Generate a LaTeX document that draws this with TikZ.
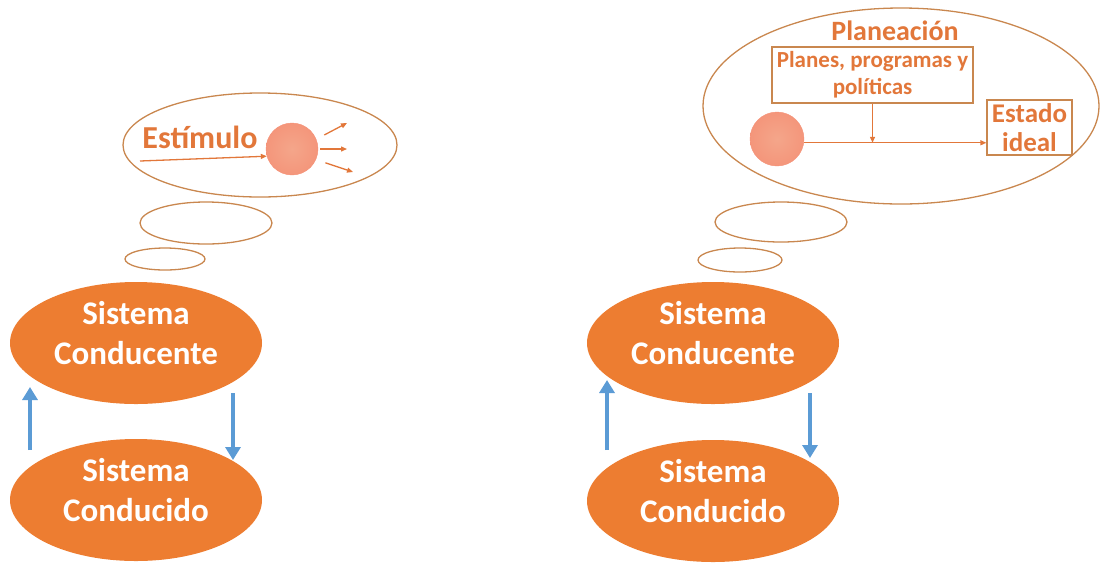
\documentclass[tikz,border=0pt]{standalone}
\usepackage{fontspec}
\setmainfont{Carlito}
\usetikzlibrary{shapes.geometric,arrows.meta}
\definecolor{naranja}{HTML}{ED7D31}
\definecolor{borde}{HTML}{C9874F}
\definecolor{letra}{HTML}{E2773A}
\definecolor{bolacol}{HTML}{F3A184}
\definecolor{azul}{HTML}{5B9BD5}

\tikzset{
 sist/.style={ellipse,fill=naranja,minimum width=252pt,minimum height=122pt,inner sep=0pt},
 sisttexto/.style={text=white,align=center,inner sep=0pt,font=\bfseries\fontsize{33}{40}\selectfont},
 nube/.style={ellipse,draw=borde,line width=1.3pt,inner sep=0pt},
 bola/.style={circle,inner color=bolacol!95!white,outer color=bolacol!93!red,draw=bolacol!90!red,inner sep=0pt},
 caja/.style={rectangle,draw=borde,line width=1.2pt,inner sep=0pt,align=center,text=letra},
 titulo/.style={anchor=base,text=letra,inner sep=0pt},
 flechaazul/.style={draw=azul,line width=3.4pt,-{Triangle[length=13pt,width=15pt]}},
 flechita/.style={draw=letra,line width=1.3pt,-{Triangle[length=6pt,width=5pt]}}
}
\newcommand{\sistema}[3]{%
 \node[sist] ({#1}) at ({#2}) {};%
 \node[sisttexto] ({#1}t) at ([yshift=10pt]{#1}.center) {#3};%
}

\begin{document}
\begin{tikzpicture}[x=1pt,y=-1pt]
 \useasboundingbox (0,0) rectangle (1102,566);
 % izquierda
 \node[nube,minimum width=274pt,minimum height=104pt] (nubeA) at (260,145) {};
 \node[nube,minimum width=132pt,minimum height=42pt] (nubeA2) at (206,223) {};
 \node[nube,minimum width=80pt,minimum height=22pt] (nubeA3) at (165,259) {};
 \node[titulo,font=\bfseries\fontsize{32}{36}\selectfont] (estimulo) at (200,148) {Estímulo};
 \node[bola,minimum size=52pt] (estA) at (292,149) {};
 \coordinate (entA) at (140,161);
 \coordinate (sal1) at (347,123);
 \coordinate (sal2) at (347,149);
 \coordinate (sal3) at (353,172);
 \draw[flechita] (entA) -- (estA.196);
 \draw[flechita,shorten <=9pt] (estA.22) -- (sal1);
 \draw[flechita,shorten <=2pt] (estA.east) -- (sal2);
 \draw[flechita,shorten <=10pt] (estA.-24) -- (sal3);

 \sistema{cteA}{136,343}{Sistema\\Conducente}
 \sistema{cdoA}{136,500}{Sistema\\Conducido}
 \coordinate (subeA1) at (30,450);
 \coordinate (subeA2) at (30,387);
 \coordinate (bajaA1) at (233,393);
 \coordinate (bajaA2) at (233,460);
 \draw[flechaazul] (subeA1) -- (subeA2);
 \draw[flechaazul] (bajaA1) -- (bajaA2);

 % derecha
 \node[nube,minimum width=396pt,minimum height=196pt] (nubeB) at (901,106) {};
 \node[nube,minimum width=132pt,minimum height=40pt] (nubeB2) at (781,222) {};
 \node[nube,minimum width=84pt,minimum height=24pt] (nubeB3) at (740,260) {};
 \node[titulo,font=\bfseries\fontsize{28}{32}\selectfont] (planeacion) at (895,40) {Planeación};
 \node[caja,minimum width=201pt,minimum height=56pt,font=\bfseries\fontsize{23}{27}\selectfont]
   (planes) at (872.5,75) {Planes, programas y\\políticas};
 \node[caja,minimum width=85pt,minimum height=55pt,font=\bfseries\fontsize{27}{29}\selectfont]
   (estado) at (1029.5,127.5) {Estado\\ideal};
 \node[bola,minimum size=54pt] (plB) at (777,139) {};
 \draw[flechita] (plB.-8) -- (plB.-8 -| estado.west);
 \draw[flechita] (planes.south) -- (planes.south |- plB.-8);

 \sistema{cteB}{713,343}{Sistema\\Conducente}
 \sistema{cdoB}{713,501}{Sistema\\Conducido}
 \coordinate (subeB1) at (607,450);
 \coordinate (subeB2) at (607,380);
 \coordinate (bajaB1) at (810,393);
 \coordinate (bajaB2) at (810,458);
 \draw[flechaazul] (subeB1) -- (subeB2);
 \draw[flechaazul] (bajaB1) -- (bajaB2);
\end{tikzpicture}
\end{document}
